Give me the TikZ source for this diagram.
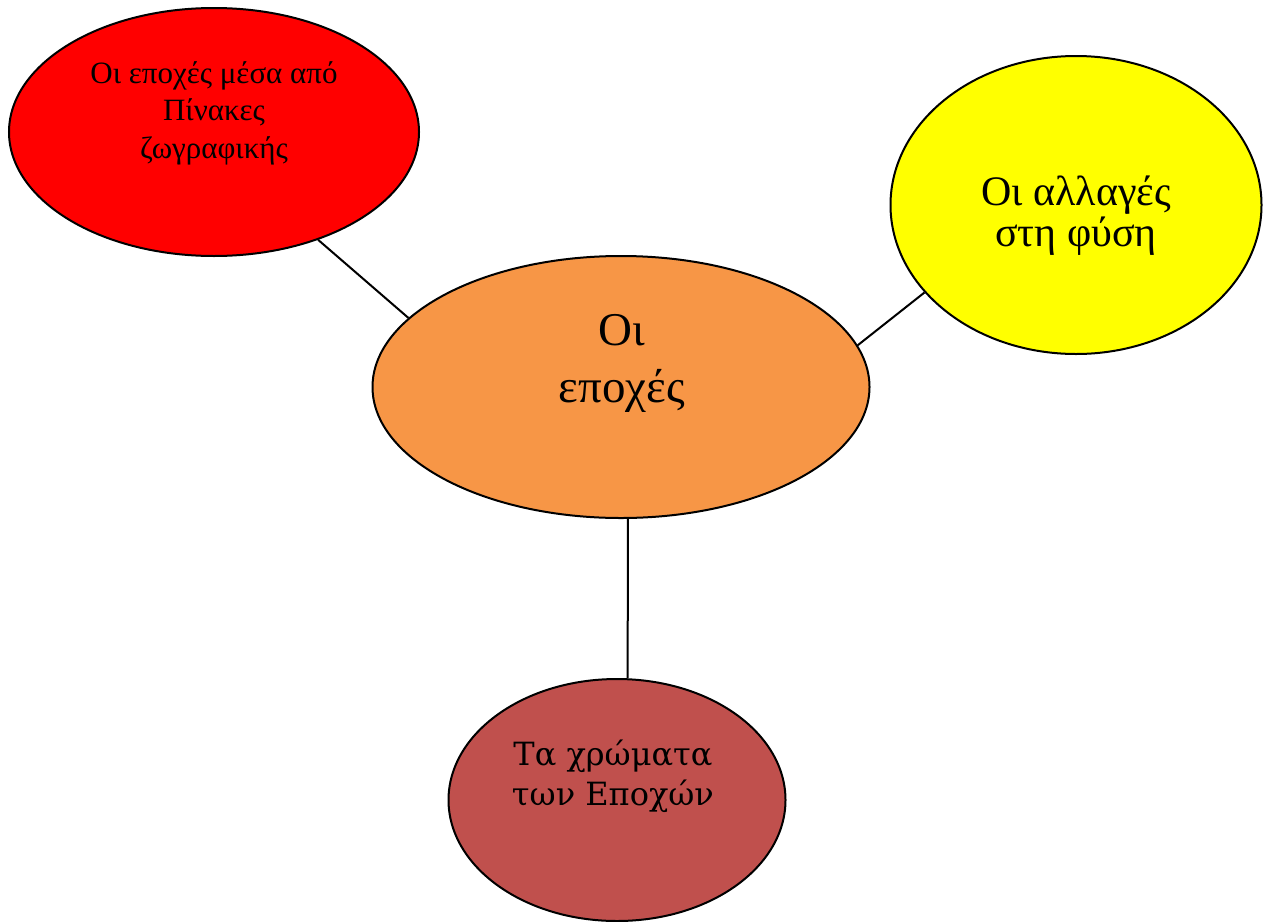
\documentclass[tikz,border=0pt]{standalone}
\usepackage{fontspec}
\setmainfont{Liberation Serif}
\newfontfamily\roundserif{DejaVu Serif}
\usepackage{tikz}
\usetikzlibrary{positioning,shapes.geometric}
\definecolor{seasorange}{HTML}{F79646}
\definecolor{seasbrown}{HTML}{C0504D}
\definecolor{seasred}{HTML}{FF0000}
\definecolor{seasyellow}{HTML}{FFFF00}

\begin{document}
\begin{tikzpicture}[x=1pt, y=-1pt, line width=2pt,
    main/.style = {ellipse, draw, inner sep=0pt},
    txt/.style = {align=center, inner sep=0pt}]
    \useasboundingbox (0,0) rectangle (1268,921);
    \node[main, fill=seasorange, minimum width=497pt, minimum height=262pt] (1) at (621,387) {};
    \node[main, fill=seasred, minimum width=410pt, minimum height=248pt] (2) at (214,132) {};
    \node[main, fill=seasyellow, minimum width=371pt, minimum height=298pt] (3) at (1076,205) {};
    \node[main, fill=seasbrown, minimum width=337pt, minimum height=242pt] (4) at (617,800) {};
    \node[txt, font=\fontsize{47}{57}\selectfont] (t1) at (622,363) {Οι\\εποχές};
    \node[txt, font=\fontsize{31}{37.5}\selectfont] (t2) at (214,113) {Οι εποχές μέσα από\\Πίνακες\\ζωγραφικής};
    \node[txt, font=\fontsize{42}{41}\selectfont] (t3) at (1076,216) {Οι αλλαγές\\στη φύση};
    \node[txt, font=\roundserif\fontsize{32}{40}\selectfont] (t4) at (613,776) {Τα χρώματα\\των Εποχών};
    \path (2.-46.6) edge (1.162.5);
    \path (3.-150.5) edge (1.10.8);
    \path (1.-87) edge (4.85.7);
\end{tikzpicture}
\end{document}
